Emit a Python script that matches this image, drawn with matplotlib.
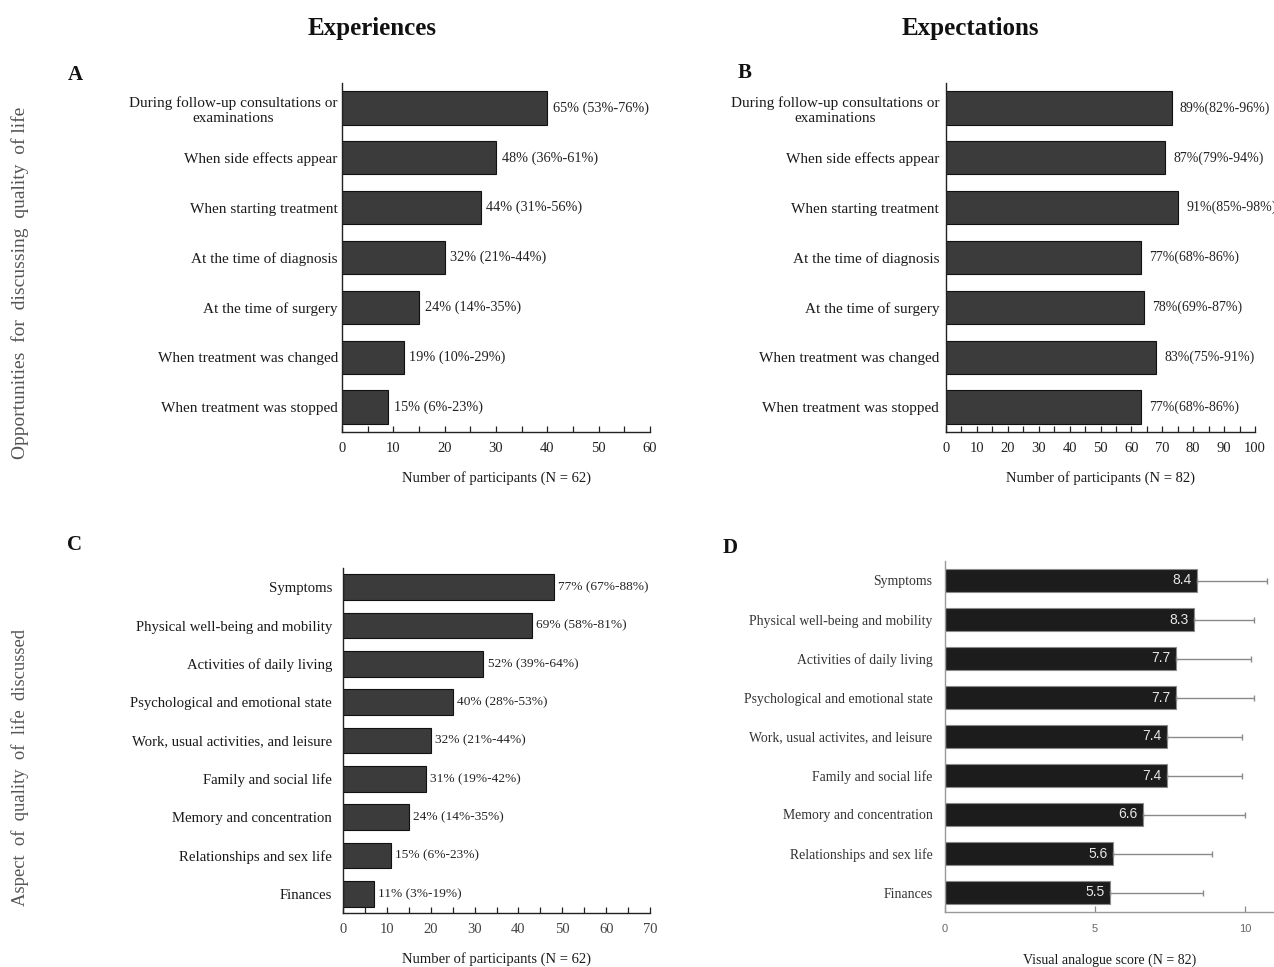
import matplotlib
matplotlib.use("Agg")
import matplotlib.pyplot as plt
from matplotlib.ticker import MultipleLocator
import numpy as np

plt.rcParams['font.family'] = ['Liberation Serif', 'DejaVu Serif']

# ---- Data ----
opp_categories = [
    "During follow-up consultations or\nexaminations",
    "When side effects appear",
    "When starting treatment",
    "At the time of diagnosis",
    "At the time of surgery",
    "When treatment was changed",
    "When treatment was stopped",
]
exp_counts = [40, 30, 27, 20, 15, 12, 9]
exp_labels = ["65% (53%-76%)", "48% (36%-61%)", "44% (31%-56%)", "32% (21%-44%)",
              "24% (14%-35%)", "19% (10%-29%)", "15% (6%-23%)"]

expect_counts = [73, 71, 75, 63, 64, 68, 63]
expect_labels = ["89%(82%-96%)", "87%(79%-94%)", "91%(85%-98%)", "77%(68%-86%)",
                 "78%(69%-87%)", "83%(75%-91%)", "77%(68%-86%)"]

aspect_categories_c = [
    "Symptoms",
    "Physical well-being and mobility",
    "Activities of daily living",
    "Psychological and emotional state",
    "Work, usual activities, and leisure",
    "Family and social life",
    "Memory and concentration",
    "Relationships and sex life",
    "Finances",
]
aspect_counts = [48, 43, 32, 25, 20, 19, 15, 11, 7]
aspect_labels = ["77% (67%-88%)", "69% (58%-81%)", "52% (39%-64%)", "40% (28%-53%)",
                 "32% (21%-44%)", "31% (19%-42%)", "24% (14%-35%)", "15% (6%-23%)",
                 "11% (3%-19%)"]

aspect_categories_d = [
    "Symptoms",
    "Physical well-being and mobility",
    "Activities of daily living",
    "Psychological and emotional state",
    "Work, usual activites, and leisure",
    "Family and social life",
    "Memory and concentration",
    "Relationships and sex life",
    "Finances",
]
vas_means = [8.4, 8.3, 7.7, 7.7, 7.4, 7.4, 6.6, 5.6, 5.5]
vas_sd = [2.35, 2.0, 2.5, 2.6, 2.5, 2.5, 3.4, 3.3, 3.1]

W, H = 1274, 967
fig = plt.figure(figsize=(W / 100, H / 100), dpi=100)


def px_axes(left, right, top, bottom):
    return fig.add_axes([left / W, 1 - bottom / H, (right - left) / W, (bottom - top) / H])


def count_panel(ax, cats, counts, labels, xmax, xlabel, label_off, cat_pad, cat_size,
                lab_size, tick_color="#222222"):
    y = np.arange(len(cats))
    ax.barh(y, counts, height=0.67, color="#3b3b3b", edgecolor="#111111", linewidth=0.8)
    for yi, c, t in zip(y, counts, labels):
        ax.annotate(t, (c, yi), xytext=(label_off, 0), textcoords="offset points",
                    va="center", ha="left", fontsize=lab_size, color="#222222")
    ax.set_ylim(len(cats) - 0.5, -0.5)
    ax.set_xlim(0, xmax)
    ax.set_yticks(y)
    ax.set_yticklabels(cats, fontsize=cat_size, color="#1a1a1a", linespacing=1.2)
    for lbl in ax.get_yticklabels():
        lbl.set_multialignment("center")
    ax.tick_params(axis="y", length=0, pad=cat_pad)
    ax.xaxis.set_major_locator(MultipleLocator(10))
    ax.xaxis.set_minor_locator(MultipleLocator(5))
    ax.tick_params(axis="x", which="both", direction="in", length=4, width=0.9,
                   labelsize=10.5, colors="#222222", pad=7)
    ax.tick_params(axis="x", labelcolor=tick_color)
    for s in ("top", "right"):
        ax.spines[s].set_visible(False)
    for s in ("left", "bottom"):
        ax.spines[s].set_linewidth(1.0)
        ax.spines[s].set_color("#222222")
    ax.set_xlabel(xlabel, fontsize=10.5, color="#1a1a1a", labelpad=12)


# Panel A: experiences, opportunities
axA = px_axes(342, 650, 83, 432)
count_panel(axA, opp_categories, exp_counts, exp_labels, 60,
            "Number of participants (N = 62)", 4, 3, 11, 10.3)

# Panel B: expectations, opportunities
axB = px_axes(946, 1255, 83, 432)
count_panel(axB, opp_categories, expect_counts, expect_labels, 100,
            "Number of participants (N = 82)", 6, 5, 11, 10)

# Panel C: aspects discussed
axC = px_axes(343, 650, 568, 913)
count_panel(axC, aspect_categories_c, aspect_counts, aspect_labels, 70,
            "Number of participants (N = 62)", 3, 8, 10.6, 9.6, tick_color="#444444")

# Panel D: visual analogue scores
axD = px_axes(945, 1274, 561, 912)
yd = np.arange(len(aspect_categories_d))
axD.barh(yd, vas_means, height=0.6, color="#1c1c1c", edgecolor="#8a8a8a", linewidth=0.8)
axD.errorbar(vas_means, yd, xerr=[np.zeros(len(vas_sd)), vas_sd], fmt="none",
             ecolor="#8a8a8a", elinewidth=1.0, capsize=2.5, capthick=1.0)
for yi, v in zip(yd, vas_means):
    axD.annotate(f"{v:.1f}", (v, yi), xytext=(-4, 0), textcoords="offset points",
                 ha="right", va="center", fontsize=10, color="#e6e6e6",
                 family=["Liberation Sans", "DejaVu Sans"])
axD.set_ylim(len(aspect_categories_d) - 0.5, -0.5)
axD.set_xlim(0, 10.97)
axD.set_yticks(yd)
axD.set_yticklabels(aspect_categories_d, fontsize=9.9, color="#333333")
axD.tick_params(axis="y", length=0, pad=9)
axD.xaxis.set_major_locator(MultipleLocator(5))
axD.tick_params(axis="x", direction="in", length=4, width=0.9, colors="#888888",
                labelsize=8, labelcolor="#666666", pad=9)
for lbl in axD.get_xticklabels():
    lbl.set_family(["Liberation Sans", "DejaVu Sans"])
for s in ("top", "right"):
    axD.spines[s].set_visible(False)
for s in ("left", "bottom"):
    axD.spines[s].set_color("#999999")
    axD.spines[s].set_linewidth(1.0)
axD.set_xlabel("Visual analogue score (N = 82)", fontsize=10, color="#1a1a1a", labelpad=14)

# Column titles and panel letters
fig.text(372 / W, 1 - 28 / H, "Experiences", ha="center", va="center",
         fontsize=18, fontweight="bold", color="#111111")
fig.text(970 / W, 1 - 28 / H, "Expectations", ha="center", va="center",
         fontsize=18, fontweight="bold", color="#111111")
for x, y, t in [(75, 75, "A"), (745, 73, "B"), (75, 545, "C"), (730, 548, "D")]:
    fig.text(x / W, 1 - y / H, t, ha="center", va="center", fontsize=15,
             fontweight="bold", color="#111111")

# Row titles
fig.text(20 / W, 1 - 283 / H, "Opportunities  for  discussing  quality  of life",
         rotation=90, ha="center", va="center", fontsize=14, color="#555555")
fig.text(20 / W, 1 - 767 / H, "Aspect  of  quality  of  life  discussed",
         rotation=90, ha="center", va="center", fontsize=13.4, color="#555555")

fig.savefig("out.png", dpi=100, facecolor="white")
